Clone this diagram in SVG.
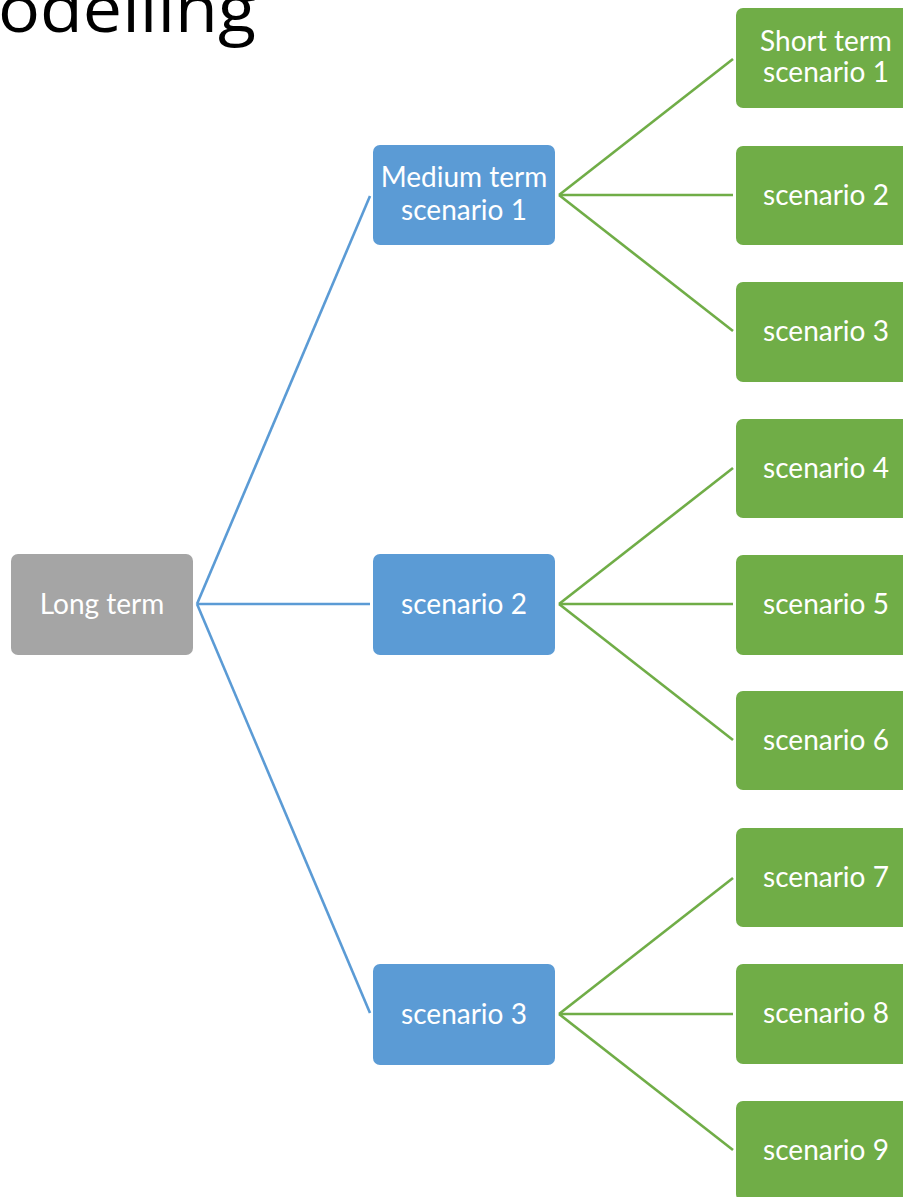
<svg xmlns="http://www.w3.org/2000/svg" width="903" height="1197" viewBox="0 0 903 1197">
<style>
.t{font-family:Lato,"Open Sans","Liberation Sans",sans-serif;font-size:28px;fill:#ffffff;text-anchor:middle}
.g{fill:#a5a5a5}
.b{fill:#5b9bd5}
.gr{fill:#70ad47}
.cb{stroke:#5b9bd5;stroke-width:2.6;fill:none}
.cg{stroke:#70ad47;stroke-width:2.6;fill:none}
</style>
<rect width="903" height="1197" fill="#ffffff"/>
<text x="-2" y="32" font-family="'Open Sans','DejaVu Sans',sans-serif" font-size="66" fill="#000000" textLength="258" lengthAdjust="spacingAndGlyphs">odelling</text>
<g id="connectors">
<line class="cb" x1="197" y1="604" x2="370" y2="196"/>
<line class="cb" x1="197" y1="604" x2="370" y2="604"/>
<line class="cb" x1="197" y1="604" x2="370" y2="1013"/>
<line class="cg" x1="559" y1="195" x2="733" y2="59"/>
<line class="cg" x1="559" y1="195" x2="733" y2="195"/>
<line class="cg" x1="559" y1="195" x2="733" y2="331"/>
<line class="cg" x1="559" y1="604" x2="733" y2="468"/>
<line class="cg" x1="559" y1="604" x2="733" y2="604"/>
<line class="cg" x1="559" y1="604" x2="733" y2="740"/>
<line class="cg" x1="559" y1="1014" x2="733" y2="878"/>
<line class="cg" x1="559" y1="1014" x2="733" y2="1014"/>
<line class="cg" x1="559" y1="1014" x2="733" y2="1150"/>
</g>
<g id="long-term"><rect class="g" x="11" y="554" width="182" height="101" rx="7"/><text class="t" x="102" y="614">Long term</text></g>
<g id="medium-1"><rect class="b" x="373" y="145" width="182" height="100" rx="7"/><text class="t" x="464" y="187">Medium term</text><text class="t" x="464" y="220">scenario 1</text></g>
<g id="medium-2"><rect class="b" x="373" y="554" width="182" height="101" rx="7"/><text class="t" x="464" y="614">scenario 2</text></g>
<g id="medium-3"><rect class="b" x="373" y="964" width="182" height="101" rx="7"/><text class="t" x="464" y="1024">scenario 3</text></g>
<g id="short-1"><rect class="gr" x="736" y="8" width="182" height="100" rx="7"/><text class="t" x="826" y="51">Short term</text><text class="t" x="826" y="82">scenario 1</text></g>
<g id="short-2"><rect class="gr" x="736" y="146" width="182" height="99" rx="7"/><text class="t" x="826" y="205">scenario 2</text></g>
<g id="short-3"><rect class="gr" x="736" y="282" width="182" height="100" rx="7"/><text class="t" x="826" y="341">scenario 3</text></g>
<g id="short-4"><rect class="gr" x="736" y="419" width="182" height="99" rx="7"/><text class="t" x="826" y="478">scenario 4</text></g>
<g id="short-5"><rect class="gr" x="736" y="555" width="182" height="100" rx="7"/><text class="t" x="826" y="614">scenario 5</text></g>
<g id="short-6"><rect class="gr" x="736" y="691" width="182" height="99" rx="7"/><text class="t" x="826" y="750">scenario 6</text></g>
<g id="short-7"><rect class="gr" x="736" y="828" width="182" height="99" rx="7"/><text class="t" x="826" y="887">scenario 7</text></g>
<g id="short-8"><rect class="gr" x="736" y="964" width="182" height="100" rx="7"/><text class="t" x="826" y="1023">scenario 8</text></g>
<g id="short-9"><rect class="gr" x="736" y="1101" width="182" height="100" rx="7"/><text class="t" x="826" y="1160">scenario 9</text></g>
</svg>
